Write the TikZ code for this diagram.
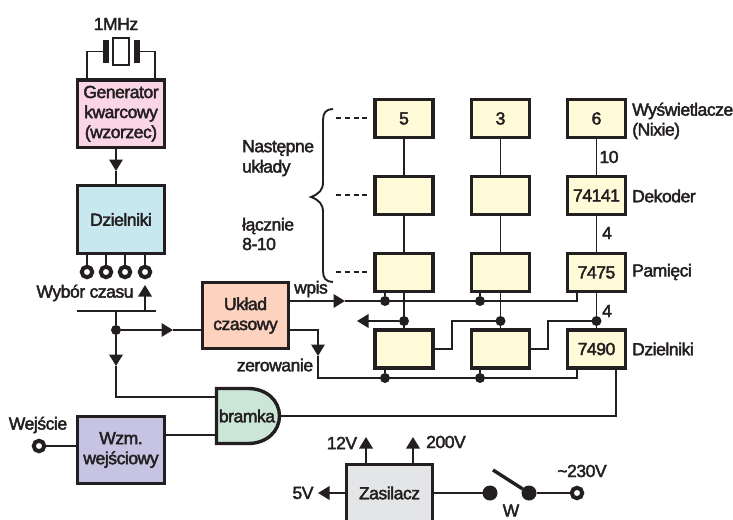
\documentclass[tikz,border=0pt]{standalone}
\usepackage{fontspec}
\setmainfont{Liberation Sans}
\newfontfamily\lab{Liberation Sans}[FakeBold=2.4,LetterSpace=-2.5]
\usetikzlibrary{arrows.meta,calc}
\definecolor{ink}{HTML}{231F20}
\definecolor{cPink}{HTML}{F9D5E5}
\definecolor{cBlue}{HTML}{C8E8F0}
\definecolor{cSalmon}{HTML}{FDD2BF}
\definecolor{cPurple}{HTML}{C6C4E2}
\definecolor{cGreen}{HTML}{CBE6D6}
\definecolor{cGray}{HTML}{E4E5E7}
\definecolor{cYellow}{HTML}{FFFBD8}
\tikzset{
  box/.style={draw=ink,line width=3.4pt,inner sep=0pt,outer sep=0pt,align=center,text=ink,font=\lab\fontsize{17.5}{20}\selectfont},
  bigbox/.style={box,minimum width=87pt,minimum height=67.5pt},
  ybox/.style={box,fill=cYellow,minimum width=58pt,minimum height=38pt},
  conn/.style={draw=ink,line width=1.9pt,line join=miter},
  tip/.style={conn,-{Triangle[width=13.5pt,length=11.5pt]},shorten >=0pt},
  lbl/.style={text=ink,inner sep=0pt,align=left,font=\lab\fontsize{17.5}{20}\selectfont},
  junc/.style={circle,fill=ink,inner sep=0pt,minimum size=10pt,outer sep=0pt},
  term/.style={circle,draw=ink,fill=white,line width=4pt,inner sep=0pt,minimum size=10.5pt,outer sep=0pt},
  big/.style={circle,fill=ink,inner sep=0pt,minimum size=15pt,outer sep=0pt},
  plate/.style={fill=ink,inner sep=0pt,minimum width=6pt,minimum height=23pt,outer sep=0pt},
}
\begin{document}
\begin{tikzpicture}[x=1pt,y=-1pt]
\useasboundingbox (0,0) rectangle (733,519);
\clip (0,0) rectangle (733,519);
% left blocks
\node[bigbox,fill=cPink] (gen) at (121,113.75) {Generator\\kwarcowy\\(wzorzec)};
\node[bigbox,fill=cBlue] (dz) at (121,219.5) {Dzielniki};
\node[bigbox,fill=cSalmon,minimum width=86pt,minimum height=66pt] (uk) at (245.5,315.5) {Układ\\czasowy};
\node[bigbox,fill=cPurple] (wzm) at (121,450) {Wzm.\\wejściowy};
% crystal
\node[draw=ink,line width=2.5pt,minimum width=16pt,minimum height=27pt,inner sep=0pt,outer sep=0pt] (xt) at (121,51.5) {};
\node[plate] (pl) at (106,51.5) {};
\node[plate] (pr) at (137,51.5) {};
\draw[conn] (pl.west) -| (gen.north -| 87,0);
\draw[conn] (pr.east) -| (gen.north -| 155,0);
\node[lbl] (mhz) at (116,24) {1MHz};
% generator to dividers
\coordinate (a1) at (116,171);
\draw[tip] (gen.south -| 116,0) -- (a1);
\draw[conn] (a1) -- (dz.north -| 116,0);
% terminals
\node[term] (t1) at (87,272) {};
\node[term] (t2) at (106,272) {};
\node[term] (t3) at (125,272) {};
\node[term] (t4) at (145,272) {};
\foreach \t/\x in {t1/87,t2/106,t3/125,t4/145}{\draw[conn] (dz.south -| \x,0) -- (\t);}
\node[lbl] (wyb) at (85,293) {Wybór czasu};
% selector
\coordinate (barL) at (77,311);
\coordinate (barR) at (156,311);
\draw[conn] (barL) -- (barR);
\coordinate (tipS) at (145,285);
\draw[tip] (145,311) -- (tipS);
\coordinate (bar116) at (116,311);
\node[junc] (j0) at (116,330) {};
\draw[conn] (bar116) -- (j0);
\coordinate (a2) at (173,330);
\draw[tip] (j0) -- (a2);
\draw[conn] (a2) -- (uk.west |- j0);
% gate
\draw[draw=ink,fill=cGreen,line width=3.4pt,line join=miter] (216.5,388.5) -- (248,388.5) .. controls (267,388.5) and (279.5,401) .. (279.5,416) .. controls (279.5,431) and (267,443.5) .. (248,443.5) -- (216.5,443.5) -- cycle;
\node[lbl] (gate) at (247,416) {bramka};
\coordinate (gI1) at (216.5,397);
\coordinate (gI2) at (216.5,435);
\coordinate (gO) at (279.5,416);
\coordinate (a3) at (116,366);
\draw[tip] (j0) -- (a3);
\draw[conn] (a3) |- (gI1);
\draw[conn] (wzm.east |- gI2) -- (gI2);
% input
\node[term] (tin) at (39,446) {};
\node[lbl] (wej) at (38,425) {Wejście};
\draw[conn] (tin) -- (wzm.west |- tin);
% yellow grid
\node[ybox] (d1) at (404,118.5) {5};
\node[ybox] (d2) at (500.5,118.5) {3};
\node[ybox] (d3) at (596.5,118.5) {6};
\node[ybox] (k1) at (404,195.5) {};
\node[ybox] (k2) at (500.5,195.5) {};
\node[ybox] (k3) at (596.5,195.5) {74141};
\node[ybox] (m1) at (404,272.5) {};
\node[ybox] (m2) at (500.5,272.5) {};
\node[ybox] (m3) at (596.5,272.5) {7475};
\node[ybox] (v1) at (404,349) {};
\node[ybox] (v2) at (500.5,349) {};
\node[ybox] (v3) at (596.5,349) {7490};
\foreach \c in {1,2,3}{
  \draw[conn] (d\c) -- (k\c);
  \draw[conn] (k\c) -- (m\c);
  \draw[conn] (m\c) -- (v\c);
}
\node[junc] (q1) at (404,321) {};
\node[junc] (q2) at (500.5,321) {};
\node[junc] (q3) at (596.5,321) {};
\coordinate (tipL) at (357,321);
\draw[tip] (q1) -- (tipL);
\draw[conn] (q2) -| (452,349) -- (v1.east |- 0,349);
\draw[conn] (q3) -| (548,349) -- (v2.east |- 0,349);
% wpis
\coordinate (a4) at (345,301);
\draw[tip] (uk.east |- a4) -- (a4);
\node[junc] (w1) at (385,301) {};
\node[junc] (w2) at (480,301) {};
\draw[conn] (a4) -- (577,301) -- (m3.south -| 577,0);
\draw[conn] (w1) -- (m1.south -| w1);
\draw[conn] (w2) -- (m2.south -| w2);
\node[lbl] (wpis) at (311,289) {wpis};
% zerowanie
\coordinate (a5) at (318,356);
\draw[tip] (uk.east |- 0,330) -| (a5);
\node[junc] (z1) at (385,378) {};
\node[junc] (z2) at (480,378) {};
\draw[conn] (a5) |- (577,378) -- (v3.south -| 577,0);
\draw[conn] (z1) -- (v1.south -| z1);
\draw[conn] (z2) -- (v2.south -| z2);
\node[lbl] (zer) at (275,365) {zerowanie};
% gate output
\draw[conn] (gO) -| (v3.south -| 616,0);
% right labels
\node[lbl,anchor=west] (ldisp) at (632,111) {Wyświetlacze};
\node[lbl,anchor=west] (lnix) at (632,131) {(Nixie)};
\node[lbl,anchor=west] (ldek) at (632,196) {Dekoder};
\node[lbl,anchor=west] (lpam) at (632,272) {Pamięci};
\node[lbl,anchor=west] (ldzi) at (632,349) {Dzielniki};
\node[lbl] (n10) at (609,157) {10};
\node[lbl] (n4a) at (607,233) {4};
\node[lbl] (n4b) at (607,311) {4};
% left labels
\node[lbl,anchor=west] (lnas) at (242,148) {Następne};
\node[lbl,anchor=west] (lukl) at (242,168) {układy};
\node[lbl,anchor=west] (llac) at (242,226) {łącznie};
\node[lbl,anchor=west] (l810) at (242,244) {8-10};
% brace
\draw[draw=ink,line width=1.9pt] (333,109) .. controls (326,109) and (323,113) .. (323,120) -- (323,182) .. controls (323,190) and (319,194) .. (311,197) .. controls (319,200) and (323,204) .. (323,212) -- (323,271) .. controls (323,278) and (326,282) .. (333,282);
% dashes
\foreach \y in {118,195,272}{\draw[draw=ink,line width=1.8pt,dash pattern=on 5pt off 3.8pt] (336,\y) -- (368,\y);}
% power
\node[box,fill=cGray,minimum width=86pt,minimum height=57pt] (zas) at (389.5,493) {Zasilacz};
\coordinate (u12) at (366,437);
\coordinate (u200) at (413,437);
\coordinate (u5) at (318,493);
\draw[tip] (zas.north -| u12) -- (u12);
\draw[tip] (zas.north -| u200) -- (u200);
\draw[tip] (zas.west) -- (u5);
\node[lbl] (l12) at (342,443) {12V};
\node[lbl] (l200) at (446,442) {200V};
\node[lbl] (l5) at (303,493) {5V};
\node[big] (s1) at (490,493) {};
\node[big] (s2) at (529,493) {};
\node[term] (t230) at (577,493) {};
\draw[conn] (zas.east) -- (s1);
\draw[conn] (s2) -- (t230);
\coordinate (sw) at (493,470);
\draw[draw=ink,line width=3.4pt] (sw) -- (s2);
\node[lbl] (l230) at (582,471) {\textasciitilde 230V};
\node[lbl] (lw) at (511,510.5) {W};
\end{tikzpicture}
\end{document}
